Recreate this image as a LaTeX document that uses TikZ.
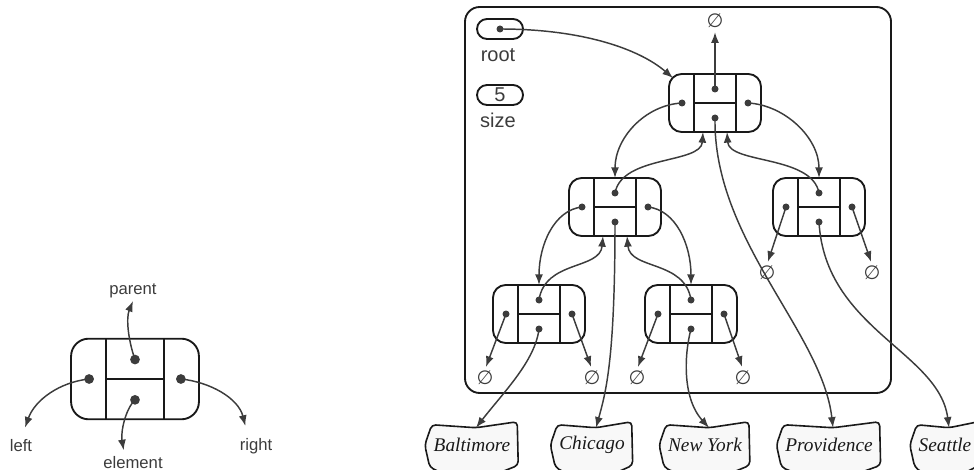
\documentclass[tikz,border=0pt]{standalone}
\usepackage{fontspec}
\setmainfont{Liberation Serif}
\setsansfont{Liberation Sans}
\newfontfamily\nilfont{DejaVu Sans}
\usetikzlibrary{arrows.meta,calc,backgrounds}
\definecolor{inkgray}{RGB}{60,60,60}
\definecolor{boxgray}{RGB}{25,25,25}
\definecolor{cityfill}{RGB}{248,248,248}

\newcommand{\treenode}[4][1]{%
  \begin{scope}[shift={(#3,#4)},scale=#1]
    \draw[boxline, rounded corners=#1*9.5pt] (-46,-29) rectangle (46,29);
    \draw[boxline] (-21,-29) -- (-21,29) (21,-29) -- (21,29) (-21,0) -- (21,0);
    \coordinate (#2) at (0,0);
    \coordinate (#2-p) at (0,-14);
    \coordinate (#2-e) at (0,15);
    \coordinate (#2-l) at (-33,0);
    \coordinate (#2-r) at (33,0);
    \coordinate (#2-t) at (0,-29);
    \coordinate (#2-nw) at (-42,-25);
    \coordinate (#2-bl) at (-12,29);
    \coordinate (#2-br) at (12,29);
    \foreach \f in {p,e,l,r} \fill[inkgray] (#2-\f) circle (3.5);
  \end{scope}}

\begin{document}
\begin{tikzpicture}[x=0.75pt, y=-0.75pt, >={Latex[length=8pt,width=6pt]},
    boxline/.style={draw=boxgray, line width=1.4pt},
    link/.style={->, draw=inkgray, line width=1.1pt},
    nillink/.style={link, shorten >=2pt},
    pill/.style={draw=boxgray, line width=1.4pt, rounded corners=7.5pt, minimum width=34.5pt, minimum height=15pt, inner sep=0pt},
    nil/.style={font=\nilfont\fontsize{14.5}{16}\selectfont, text=inkgray, inner sep=1pt},
    lbl/.style={font=\sffamily\fontsize{15}{17}\selectfont, text=inkgray},
    keylbl/.style={font=\sffamily\fontsize{12.5}{14}\selectfont, text=inkgray, inner sep=2pt},
    city/.style={font=\itshape\fontsize{14.5}{17}\selectfont, text=boxgray, minimum height=30pt, inner xsep=5pt},
    cityline/.style={draw=boxgray, fill=cityfill, line width=1.2pt, rounded corners=3pt}]
  \useasboundingbox (0,0) rectangle (974,470);

  % key
  \treenode[1.39]{key}{135}{379}
  \node[keylbl, anchor=south] (kParent) at (133,301) {parent};
  \node[keylbl] (kLeft) at (21,446) {left};
  \node[keylbl] (kRight) at (256,446) {right};
  \node[keylbl, anchor=north] (kElem) at (133,453) {element};
  \draw[link] (key-p) .. controls +(-7,-20) and +(-7,17) .. (kParent.south);
  \draw[link] (key-l) .. controls +(-29,3) and +(10,-28) .. ([xshift=3pt,yshift=7pt]kLeft.north);
  \draw[link] (key-r) .. controls +(29,3) and +(-7,-28) .. ([xshift=-8pt,yshift=7pt]kRight.north);
  \draw[link] (key-e) .. controls +(-10,10) and +(-3,-18) .. ([xshift=-7pt,yshift=2pt]kElem.north);

  % tree
  \draw[boxline, rounded corners=11pt] (465,7) rectangle (891,393);
  \node[pill] (rootbox) at (500,29) {};
  \fill[inkgray] (rootbox.center) circle (3.5);
  \node[lbl] (rootlbl) at (498,55) {root};
  \node[pill, lbl] (sizebox) at (500,95) {5};
  \node[lbl] (sizelbl) at (498,120) {size};

  \treenode{nProv}{715}{103}
  \treenode{nChi}{615}{207}
  \treenode{nSea}{819}{207}
  \treenode{nBal}{539}{314}
  \treenode{nNY}{691}{314}

  \node[nil] (zTop) at (715,21) {∅};
  \node[nil] (zSeaL) at (767,273) {∅};
  \node[nil] (zSeaR) at (872,273) {∅};
  \node[nil] (zBalL) at (485,378) {∅};
  \node[nil] (zBalR) at (592,378) {∅};
  \node[nil] (zNYL) at (637,378) {∅};
  \node[nil] (zNYR) at (743,378) {∅};

  \draw[link] (rootbox.center) .. controls +(80,0) and +(-35,-30) .. (nProv-nw);
  \draw[nillink] (nProv-p) -- (zTop.south);
  \draw[link] (nProv-l) .. controls +(-37,2) and +(0,-40) .. (nChi-t);
  \draw[link] (nChi-p) .. controls +(7,-38) and +(-2,32) .. (nProv-bl);
  \draw[link] (nProv-r) .. controls +(37,2) and +(0,-40) .. (nSea-t);
  \draw[link] (nSea-p) .. controls +(-7,-38) and +(2,32) .. (nProv-br);
  \draw[link] (nChi-l) .. controls +(-28,3) and +(0,-40) .. (nBal-t);
  \draw[link] (nBal-p) .. controls +(6,-40) and +(-3,34) .. (nChi-bl);
  \draw[link] (nChi-r) .. controls +(28,3) and +(0,-40) .. (nNY-t);
  \draw[link] (nNY-p) .. controls +(-6,-40) and +(3,34) .. (nChi-br);
  \draw[nillink] (nSea-l) -- (zSeaL.north);
  \draw[nillink] (nSea-r) -- (zSeaR.north);
  \draw[nillink] (nBal-l) -- (zBalL.north);
  \draw[nillink] (nBal-r) -- (zBalR.north);
  \draw[nillink] (nNY-l) -- (zNYL.north);
  \draw[nillink] (nNY-r) -- (zNYR.north);

  % elements
  \foreach \nm/\txt/\x in {Bal/Baltimore/472, Chi/Chicago/592, NY/New York/705, Prov/Providence/829, Sea/Seattle/945}{
    \node[city] (c\nm) at (\x,445) {\txt};
    \begin{scope}[on background layer]
      \draw[cityline] ($(c\nm.north west)+(5,0)$) -- ($(c\nm.north)+(4,3)$) -- ($(c\nm.north east)+(0,-3)$)
        -- ($(c\nm.south east)+(1,0)$) -- ($(c\nm.south)+(-4,20)$) -- ($(c\nm.south west)+(3,2)$)
        -- ($(c\nm.west)+(-2,0)$) -- cycle;
    \end{scope}
    \coordinate (c\nm-in) at ($(c\nm.north)+(4,3)$);
  }
  \draw[link] (nBal-e) .. controls +(-4,32) and +(28,-36) .. (cBal-in);
  \draw[link] (nChi-e) .. controls +(0,137) and +(10,-36) .. (cChi-in);
  \draw[link] (nNY-e) .. controls +(-6,22) and +(-28,-31) .. (cNY-in);
  \draw[link] (nProv-e) .. controls +(-2,122) and +(-11,-96) .. (cProv-in);
  \draw[link] (nSea-e) .. controls +(6,107) and +(-10,-76) .. (cSea-in);
\end{tikzpicture}
\end{document}
